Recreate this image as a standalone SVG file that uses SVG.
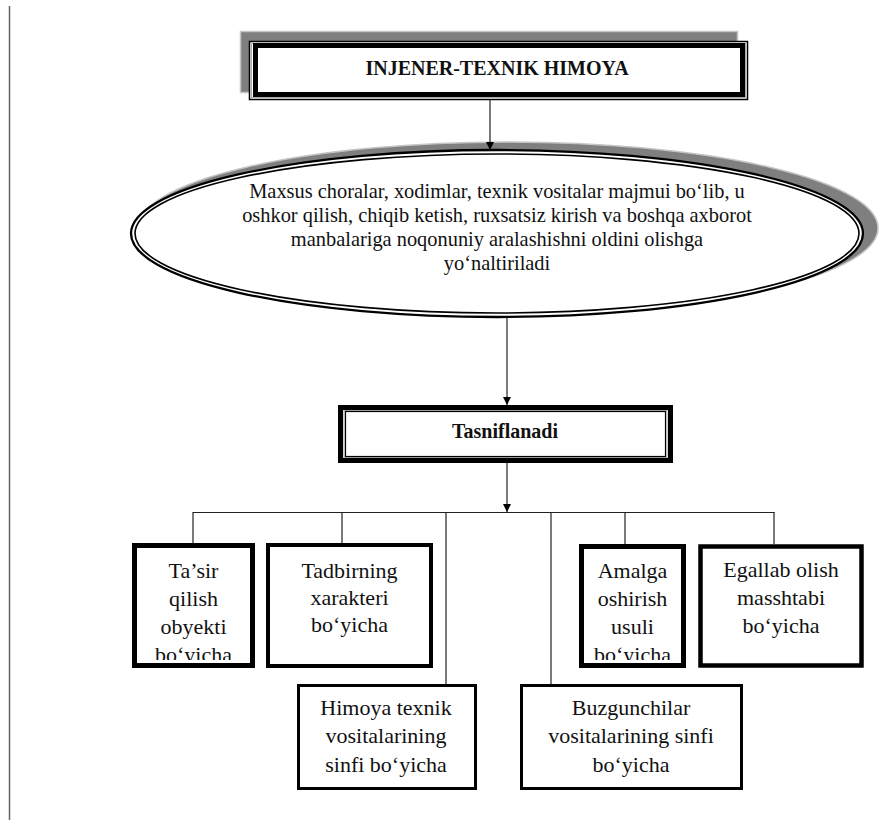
<svg xmlns="http://www.w3.org/2000/svg" width="893" height="820" viewBox="0 0 893 820">
  <style>
    .t { font-family: "Liberation Serif", "Times New Roman", serif; fill: #111; text-anchor: middle; }
    .title { font-size: 20px; font-weight: bold; }
    .body { font-size: 20.4px; }
    .box { font-size: 22px; }
    .thick { fill: #fff; stroke: #000; }
    .conn { stroke: #222; stroke-width: 1.2; fill: none; }
    .shadow { fill: #7f7f7f; stroke: #c4c4c4; stroke-width: 1.5; }
  </style>
  <defs>
    <marker id="arrow" viewBox="0 0 10 10" refX="10" refY="5" markerWidth="8" markerHeight="8" markerUnits="userSpaceOnUse" orient="auto">
      <path d="M0,0 L10,5 L0,10 Z" fill="#000"/>
    </marker>
    <clipPath id="clip1"><rect x="137" y="548" width="113" height="112"/></clipPath>
    <clipPath id="clip5"><rect x="584" y="549" width="97" height="111"/></clipPath>
  </defs>

  <rect width="893" height="820" fill="#fff"/>
  <!-- page margin rule -->
  <line x1="9.5" y1="6" x2="9.5" y2="820" stroke="#666" stroke-width="1.5"/>

  <!-- title box -->
  <g id="title">
    <rect class="shadow" x="240.5" y="31.5" width="497" height="61"/>
    <rect x="249.5" y="41.5" width="498" height="58" fill="#fff" stroke="#000" stroke-width="1.5"/>
    <rect x="251.5" y="43.5" width="494" height="54" fill="none" stroke="#aaa" stroke-width="1"/>
    <rect class="thick" x="255.5" y="45.5" width="487" height="49" stroke-width="5"/>
    <text class="t title" x="497" y="75">INJENER-TEXNIK HIMOYA</text>
  </g>

  <!-- definition ellipse -->
  <g id="definition">
    <ellipse class="shadow" cx="508" cy="228" rx="370" ry="86"/>
    <ellipse cx="497" cy="233.5" rx="366" ry="83.5" fill="#fff" stroke="#000" stroke-width="2.3"/>
    <ellipse cx="497" cy="233.5" rx="362" ry="79.5" fill="none" stroke="#000" stroke-width="1.6"/>
    <text class="t body" x="497" y="198">Maxsus choralar, xodimlar, texnik vositalar majmui bo‘lib, u</text>
    <text class="t body" x="497" y="222">oshkor qilish, chiqib ketish, ruxsatsiz kirish va boshqa axborot</text>
    <text class="t body" x="497" y="246">manbalariga noqonuniy aralashishni oldini olishga</text>
    <text class="t body" x="497" y="270">yo‘naltiriladi</text>
  </g>

  <!-- classification box -->
  <g id="classify">
    <rect class="thick" x="340.5" y="407.5" width="330" height="53" stroke-width="5"/>
    <rect x="344" y="410.5" width="323" height="47" fill="none" stroke="#aaa" stroke-width="1"/>
    <rect x="345.5" y="411.5" width="320" height="45" fill="none" stroke="#000" stroke-width="1.2"/>
    <text class="t title" x="505" y="438">Tasniflanadi</text>
  </g>

  <!-- connectors -->
  <g id="connectors">
    <line class="conn" x1="490" y1="100" x2="490" y2="150" marker-end="url(#arrow)"/>
    <line class="conn" x1="507" y1="317" x2="507" y2="405" marker-end="url(#arrow)"/>
    <line class="conn" x1="507" y1="463" x2="507" y2="512" marker-end="url(#arrow)"/>
    <line class="conn" x1="193" y1="512.5" x2="774.5" y2="512.5"/>
    <line class="conn" x1="193" y1="512" x2="193" y2="543"/>
    <line class="conn" x1="342" y1="512" x2="342" y2="543"/>
    <line class="conn" x1="446" y1="512" x2="446" y2="684"/>
    <line class="conn" x1="551" y1="512" x2="551" y2="684"/>
    <line class="conn" x1="625" y1="512" x2="625" y2="544"/>
    <line class="conn" x1="774" y1="512" x2="774" y2="544"/>
  </g>

  <g id="by-object">
    <rect class="thick" x="134.5" y="545.5" width="118" height="120" stroke-width="5"/>
    <g clip-path="url(#clip1)">
      <text class="t box" x="193.5" y="578">Ta’sir</text>
      <text class="t box" x="193.5" y="606">qilish</text>
      <text class="t box" x="193.5" y="634">obyekti</text>
      <text class="t box" x="193.5" y="662">bo‘yicha</text>
    </g>
  </g>

  <g id="by-character">
    <rect class="thick" x="268" y="545" width="163" height="121" stroke-width="4"/>
    <text class="t box" x="349.5" y="578">Tadbirning</text>
    <text class="t box" x="349.5" y="605">xarakteri</text>
    <text class="t box" x="349.5" y="632">bo‘yicha</text>
  </g>

  <g id="by-protection-means">
    <rect class="thick" x="298.5" y="685.5" width="177" height="103" stroke-width="3"/>
    <text class="t box" x="386" y="715">Himoya texnik</text>
    <text class="t box" x="386" y="743">vositalarining</text>
    <text class="t box" x="386" y="772">sinfi bo‘yicha</text>
  </g>

  <g id="by-intruder-means">
    <rect class="thick" x="521.5" y="685.5" width="220" height="103" stroke-width="3"/>
    <text class="t box" x="631" y="715">Buzgunchilar</text>
    <text class="t box" x="631" y="743">vositalarining sinfi</text>
    <text class="t box" x="631" y="772">bo‘yicha</text>
  </g>

  <g id="by-method">
    <rect class="thick" x="581.5" y="546.5" width="102" height="119" stroke-width="5"/>
    <g clip-path="url(#clip5)">
      <text class="t box" x="632.5" y="578">Amalga</text>
      <text class="t box" x="632.5" y="606">oshirish</text>
      <text class="t box" x="632.5" y="634">usuli</text>
      <text class="t box" x="632.5" y="662">bo‘yicha</text>
    </g>
  </g>

  <g id="by-scale">
    <rect class="thick" x="700.5" y="546.5" width="161" height="119" stroke-width="4.5"/>
    <text class="t box" x="781" y="577">Egallab olish</text>
    <text class="t box" x="781" y="605">masshtabi</text>
    <text class="t box" x="781" y="633">bo‘yicha</text>
  </g>
</svg>
